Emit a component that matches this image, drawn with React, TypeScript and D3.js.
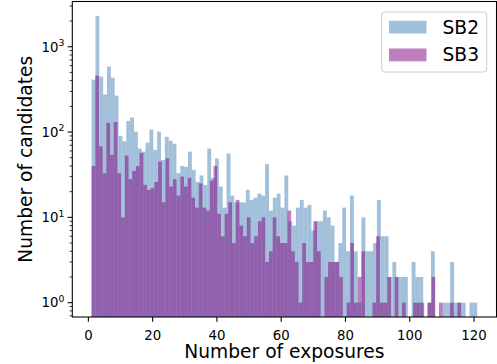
import React from 'react';
import * as d3 from 'd3';

// histogram settings (numpy style: 100 bins over each series' range)
const sb2Range: [number, number] = [1, 121];
const sb3Range: [number, number] = [1, 116];
const nBins = 100;

// counts per bin
const sb2Counts = [
  411, 2300, 447, 275, 585, 434, 267, 90, 78, 135,
  148, 101, 64, 59, 75, 107, 62, 101, 47, 88,
  79, 73, 33, 40, 39, 59, 36, 26, 31, 24,
  64, 29, 49, 23, 13, 56, 18, 15, 15, 15,
  21, 16, 17, 19, 18, 42, 12, 17, 19, 13,
  31, 9, 8, 13, 16, 13, 14, 7, 9, 9,
  12, 10, 8, 3, 5, 13, 4, 18, 4, 1,
  10, 4, 4, 5, 16, 6, 6, 2, 3, 2,
  2, 2, 0, 3, 2, 2, 0, 1, 4, 0,
  0, 1, 1, 3, 1, 1, 1, 0, 1, 1,
];
const sb3Counts = [
  40, 458, 68, 33, 128, 54, 131, 33, 10, 53,
  28, 35, 40, 57, 24, 21, 22, 26, 45, 15,
  49, 23, 28, 18, 30, 23, 29, 17, 13, 25,
  13, 12, 27, 40, 11, 6, 11, 15, 5, 16,
  8, 6, 10, 5, 6, 9, 10, 3, 4, 10,
  6, 5, 5, 12, 4, 3, 1, 5, 3, 3,
  9, 4, 0, 2, 3, 3, 3, 2, 0, 1,
  5, 1, 2, 4, 0, 0, 1, 6, 1, 1,
  2, 0, 2, 0, 1, 0, 0, 1, 1, 1,
  0, 1, 2, 0, 1, 0, 0, 1, 0, 1,
];

const xTicks = [0, 20, 40, 60, 80, 100, 120];
const yExponents = [0, 1, 2, 3];
const legendItems = [
  { label: 'SB2', color: 'steelblue' },
  { label: 'SB3', color: 'purple' },
];

const W = 497;
const H = 364;
const left = 72.3, right = 496.5, top = 1.5, bottom = 317;
const font = 'DejaVu Sans, sans-serif';

function toBins(counts: number[], range: [number, number]) {
  const w = (range[1] - range[0]) / nBins;
  return counts.map((c, i) => ({ x0: range[0] + i * w, x1: range[0] + (i + 1) * w, c }));
}

const App: React.FC = () => {
  const x = d3.scaleLinear().domain([-5, 127]).range([left, right]);
  const y = d3.scaleLog().domain([0.679, 3390]).range([bottom, top]);

  const series = [
    { bins: toBins(sb2Counts, sb2Range), color: 'steelblue' },
    { bins: toBins(sb3Counts, sb3Range), color: 'purple' },
  ];

  // minor ticks 2..9 in each decade, inside the visible domain
  const minor: number[] = [];
  for (let e = -1; e <= 3; e++) {
    for (let m = 2; m <= 9; m++) {
      const v = m * Math.pow(10, e);
      if (v > 0.679 && v < 3390) minor.push(v);
    }
  }

  return (
    <svg width={W} height={H} style={{ position: 'absolute', left: 0, top: 0 }} fontFamily={font}>
      <rect width={W} height={H} fill="white" />
      <defs>
        <clipPath id="plot">
          <rect x={left} y={top} width={right - left} height={bottom - top} />
        </clipPath>
      </defs>
      <g clipPath="url(#plot)">
        {series.map((s, si) => (
          <g key={si} fill={s.color} fillOpacity={0.5}>
            {s.bins.filter(b => b.c > 0).map((b, i) => (
              <rect key={i} x={x(b.x0)} width={x(b.x1) - x(b.x0)} y={y(b.c)} height={bottom - y(b.c)} />
            ))}
          </g>
        ))}
      </g>

      {/* spines */}
      <rect x={left} y={top} width={right - left} height={bottom - top} fill="none" stroke="black" strokeWidth={1.07} />

      {/* x axis */}
      {xTicks.map(t => (
        <g key={t} transform={`translate(${x(t)},${bottom})`}>
          <line y2={4.7} stroke="black" strokeWidth={1.07} />
          <text y={22.5} textAnchor="middle" fontSize={13.3}>{t}</text>
        </g>
      ))}
      <text x={(left + right) / 2} y={358} textAnchor="middle" fontSize={18.67}>Number of exposures</text>

      {/* y axis */}
      {minor.map(v => (
        <line key={v} x1={left} x2={left - 2.7} y1={y(v)} y2={y(v)} stroke="black" strokeWidth={0.8} />
      ))}
      {yExponents.map(e => (
        <g key={e} transform={`translate(${left},${y(Math.pow(10, e))})`}>
          <line x2={-4.7} stroke="black" strokeWidth={1.07} />
          <text x={-8} y={4.8} textAnchor="end" fontSize={13.3}>
            10<tspan dy={-5.5} fontSize={9.3}>{e}</tspan>
          </text>
        </g>
      ))}
      <text transform={`translate(31.5,${(top + bottom) / 2}) rotate(-90)`} textAnchor="middle" fontSize={18.67}>
        Number of candidates
      </text>

      {/* legend */}
      <rect x={381.7} y={12} width={105} height={60} rx={3} fill="white" fillOpacity={0.8} stroke="#cccccc" strokeWidth={1} />
      {legendItems.map((it, i) => (
        <g key={it.label} transform={`translate(389,${20.7 + i * 27.8})`}>
          <rect width={37.5} height={12.8} fill={it.color} fillOpacity={0.5} />
          <text x={53.5} y={12.8} fontSize={18.67}>{it.label}</text>
        </g>
      ))}
    </svg>
  );
};

export default App;
